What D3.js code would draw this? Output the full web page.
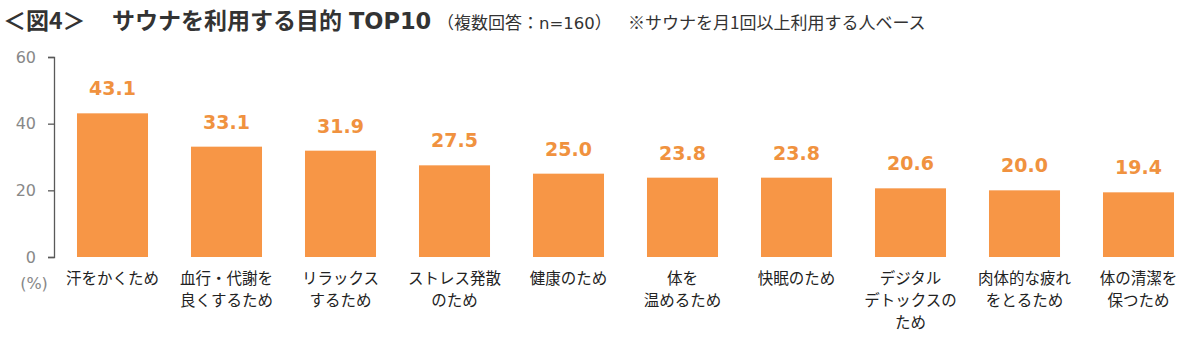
<!DOCTYPE html>
<html lang="ja">
<head>
<meta charset="utf-8">
<script src="https://cdn.jsdelivr.net/npm/d3@7"></script>
<style>
  html, body { margin: 0; padding: 0; background: #fff; }
  svg { display: block; }
</style>
</head>
<body>
<svg id="chart" width="1200" height="340"></svg>
<script>
// Purposes for using saunas (multiple answers, n=160), top 10
const categories = [
  ["汗をかくため"],
  ["血行・代謝を", "良くするため"],
  ["リラックス", "するため"],
  ["ストレス発散", "のため"],
  ["健康のため"],
  ["体を", "温めるため"],
  ["快眠のため"],
  ["デジタル", "デトックスの", "ため"],
  ["肉体的な疲れ", "をとるため"],
  ["体の清潔を", "保つため"]
];
const values = [43.1, 33.1, 31.9, 27.5, 25.0, 23.8, 23.8, 20.6, 20.0, 19.4];
const yTicks = [0, 20, 40, 60];

const svg = d3.select("#chart");
const jp = "'Noto Sans CJK JP', 'Noto Sans', sans-serif";
const num = "'DejaVu Sans', Verdana, sans-serif";

// Title line
const title = svg.append("text").attr("y", 29).attr("fill", "#333");
title.append("tspan").attr("x", 3).attr("font-family", jp)
  .attr("font-size", 23).attr("font-weight", 700).text("＜図4＞");
title.append("tspan").attr("x", 112).attr("font-family", jp)
  .attr("font-size", 23).attr("font-weight", 700).text("サウナを利用する目的");
title.append("tspan").attr("x", 349).attr("font-family", num)
  .attr("font-size", 22.5).attr("font-weight", 700).text("TOP10");
title.append("tspan").attr("x", 437).attr("font-family", jp)
  .attr("font-size", 17).attr("font-weight", 400).text("（複数回答：");
title.append("tspan").attr("font-family", num)
  .attr("font-size", 16.5).attr("font-weight", 400).text("n=160");
title.append("tspan").attr("font-family", jp)
  .attr("font-size", 17).attr("font-weight", 400).text("）");
title.append("tspan").attr("x", 628).attr("font-family", jp)
  .attr("font-size", 17).attr("font-weight", 400).text("※サウナを月1回以上利用する人ベース");

// Scales
const x = d3.scaleBand()
  .domain(d3.range(values.length))
  .range([55.5, 1195.5])
  .paddingInner(0.377)
  .paddingOuter(0.1885);

const y = d3.scaleLinear().domain([0, 60]).range([257, 57]);

// Y axis
const yAxis = d3.axisLeft(y).tickValues(yTicks).tickSize(6).tickPadding(12);
const ga = svg.append("g").attr("transform", "translate(54,0)").call(yAxis);
ga.select(".domain").attr("stroke", "#595959").attr("stroke-width", 1.3);
ga.selectAll(".tick line").attr("stroke", "#595959").attr("stroke-width", 1.3);
ga.selectAll(".tick text").attr("font-family", num).attr("font-size", 16)
  .attr("fill", "#888");

svg.append("text").attr("x", 34).attr("y", 289).attr("text-anchor", "middle")
  .attr("font-family", num).attr("font-size", 16).attr("fill", "#888").text("(%)");

// Bars
svg.append("g").selectAll("rect").data(values).join("rect")
  .attr("x", (d, i) => x(i))
  .attr("y", d => y(d))
  .attr("width", x.bandwidth())
  .attr("height", d => y(0) - y(d))
  .attr("fill", "#F79646");

// Value labels
svg.append("g").selectAll("text").data(values).join("text")
  .attr("x", (d, i) => x(i) + x.bandwidth() / 2)
  .attr("y", d => y(d) - 18)
  .attr("text-anchor", "middle")
  .attr("font-family", num).attr("font-size", 19).attr("font-weight", 700)
  .attr("fill", "#F0923F")
  .text(d => d.toFixed(1));

// Category labels
const cl = svg.append("g").selectAll("text").data(categories).join("text")
  .attr("text-anchor", "middle")
  .attr("font-family", jp).attr("font-size", 15.5).attr("fill", "#222");
cl.selectAll("tspan").data((d, i) => d.map(s => ({ s, i }))).join("tspan")
  .attr("x", d => x(d.i) + x.bandwidth() / 2)
  .attr("y", (d, j) => 284 + j * 22)
  .text(d => d.s);
</script>
</body>
</html>
